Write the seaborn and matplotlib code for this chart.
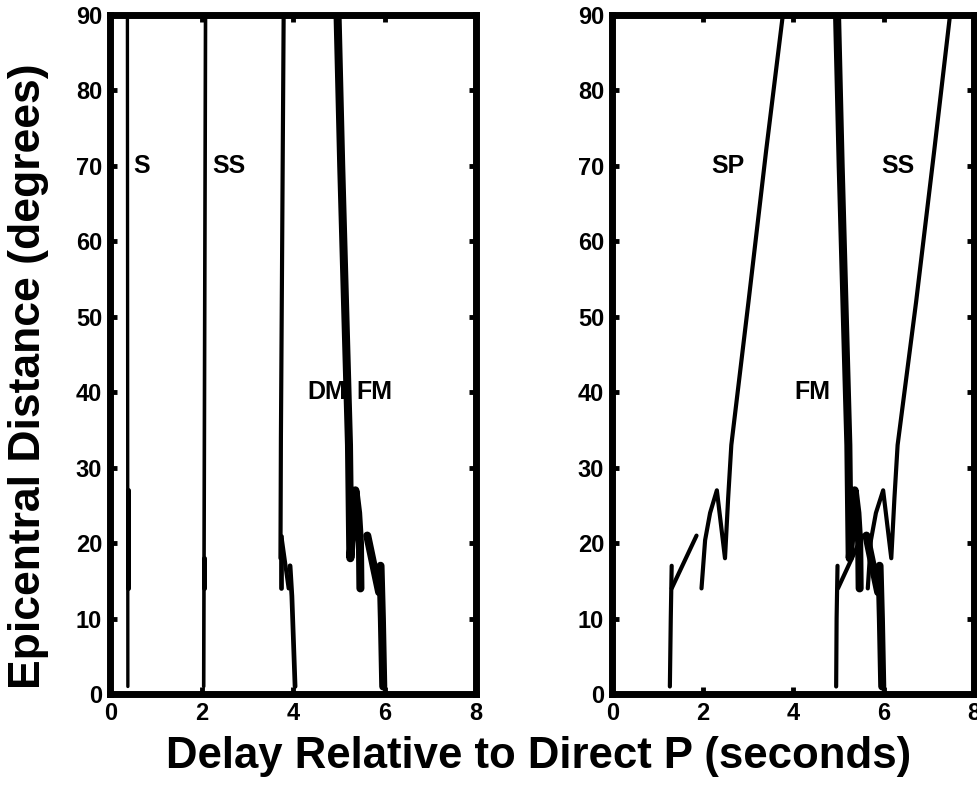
import matplotlib
matplotlib.use("Agg")
import matplotlib.pyplot as plt
import pandas as pd
import seaborn as sns

sns.set_theme(style="ticks", context="paper")
plt.rcParams["font.family"] = ["Liberation Sans", "DejaVu Sans"]
plt.rcParams["font.weight"] = "bold"
plt.rcParams["text.color"] = "black"
plt.rcParams["axes.labelcolor"] = "black"
plt.rcParams["xtick.color"] = "black"
plt.rcParams["ytick.color"] = "black"

# ---- left panel: S, SS, DM, FM ----
s_delay = [0.38, 0.37]
s_dist = [1.0, 90.0]
s_trip_delay = [0.38, 0.38]
s_trip_dist = [14.0, 27.0]

ss1_delay = [2.04, 2.08]
ss1_dist = [1.0, 90.0]
ss1_trip_delay = [2.04, 2.04]
ss1_trip_dist = [14.0, 18.0]

dm_main_delay = [3.79, 3.73, 3.72]
dm_main_dist = [90.0, 34.0, 18.0]
dm_b_delay = [3.73, 3.73]
dm_b_dist = [14.0, 21.0]
dm_c_delay = [3.75, 3.90]
dm_c_dist = [20.5, 14.0]
dm_d_delay = [3.93, 3.97, 4.04]
dm_d_dist = [17.0, 13.0, 1.0]

# FM (same in both panels)
fm_main_delay = [4.97, 5.05, 5.22, 5.25, 5.36, 5.42, 5.46, 5.47]
fm_main_dist = [90.0, 70.0, 33.0, 18.0, 27.0, 24.0, 20.0, 14.0]
fm_b_delay = [5.62, 5.88]
fm_b_dist = [21.0, 13.5]
fm_a_delay = [5.91, 5.94, 5.97]
fm_a_dist = [17.0, 10.0, 1.0]

# ---- right panel: SP, FM, SS ----
sp_a_delay = [1.27, 1.29, 1.31]
sp_a_dist = [1.0, 10.0, 17.0]
sp_b_delay = [1.31, 1.86]
sp_b_dist = [14.0, 21.0]
sp_c_delay = [1.97, 2.05, 2.16, 2.31, 2.49, 2.56, 2.63, 3.01, 3.40, 3.77]
sp_c_dist = [14.0, 20.4, 24.0, 27.0, 18.0, 26.0, 33.0, 52.0, 72.0, 90.0]

ss2_a_delay = [4.95, 4.96, 4.98]
ss2_a_dist = [1.0, 10.0, 17.0]
ss2_b_delay = [4.99, 5.53]
ss2_b_dist = [14.0, 21.0]
ss2_c_delay = [5.65, 5.72, 5.83, 5.99, 6.17, 6.24, 6.31, 6.72, 7.12, 7.47]
ss2_c_dist = [14.0, 20.4, 24.0, 27.0, 18.0, 26.0, 33.0, 52.0, 72.0, 90.0]

left_labels = ["S", "SS", "DM", "FM"]
left_label_delay = [0.49, 2.22, 4.32, 5.39]
left_label_dist = [70, 70, 40, 40]
right_labels = ["SP", "SS", "FM"]
right_label_delay = [2.19, 5.94, 4.02]
right_label_dist = [70, 70, 40]

x_ticks = [0, 2, 4, 6, 8]
y_ticks = list(range(0, 91, 10))

FM_LW = 5.8
left_segments = [
    (s_delay, s_dist, 2.4),
    (s_trip_delay, s_trip_dist, 3.6),
    (ss1_delay, ss1_dist, 2.6),
    (ss1_trip_delay, ss1_trip_dist, 3.6),
    (dm_main_delay, dm_main_dist, 3.0),
    (dm_b_delay, dm_b_dist, 3.4),
    (dm_c_delay, dm_c_dist, 3.0),
    (dm_d_delay, dm_d_dist, 3.4),
    (fm_main_delay, fm_main_dist, FM_LW),
    (fm_b_delay, fm_b_dist, FM_LW),
    (fm_a_delay, fm_a_dist, FM_LW),
]
right_segments = [
    (sp_a_delay, sp_a_dist, 3.0),
    (sp_b_delay, sp_b_dist, 3.0),
    (sp_c_delay, sp_c_dist, 3.0),
    (ss2_a_delay, ss2_a_dist, 3.0),
    (ss2_b_delay, ss2_b_dist, 3.0),
    (ss2_c_delay, ss2_c_dist, 3.0),
    (fm_main_delay, fm_main_dist, FM_LW),
    (fm_b_delay, fm_b_dist, FM_LW),
    (fm_a_delay, fm_a_dist, FM_LW),
]


def draw_panel(ax, segments, labels, label_x, label_y):
    for delay, dist, lw in segments:
        df = pd.DataFrame({"delay": delay, "dist": dist})
        sns.lineplot(data=df, x="delay", y="dist", sort=False, estimator=None,
                     color="black", lw=lw, solid_capstyle="round", ax=ax)
    for text, x, y in zip(labels, label_x, label_y):
        ax.text(x, y, text, ha="left", va="center", fontsize=18,
                fontweight="bold", color="black")
    ax.set_xlim(0, 8)
    ax.set_ylim(0, 90)
    ax.set_xticks(x_ticks)
    ax.set_yticks(y_ticks)
    ax.set_xlabel("")
    ax.set_ylabel("")
    ax.tick_params(direction="in", top=True, right=True, length=5, width=3.5,
                   labelsize=17, pad=6, colors="black")
    for spine in ax.spines.values():
        spine.set_visible(True)
        spine.set_linewidth(5)
        spine.set_color("black")


fig = plt.figure(figsize=(9.77, 7.95), dpi=100)
ax1 = fig.add_axes([0.1131, 0.1270, 0.3741, 0.8541])
ax2 = fig.add_axes([0.6269, 0.1270, 0.3700, 0.8541])
draw_panel(ax1, left_segments, left_labels, left_label_delay, left_label_dist)
draw_panel(ax2, right_segments, right_labels, right_label_delay, right_label_dist)

fig.text(0.5517, 0.048, "Delay Relative to Direct P (seconds)", ha="center", va="center",
         fontsize=31.5, fontweight="bold", color="black")
fig.text(0.029, 0.527, "Epicentral Distance (degrees)", ha="center", va="center",
         rotation=90, fontsize=32, fontweight="bold", color="black")

fig.savefig("out.png", dpi=100)
plt.close(fig)
